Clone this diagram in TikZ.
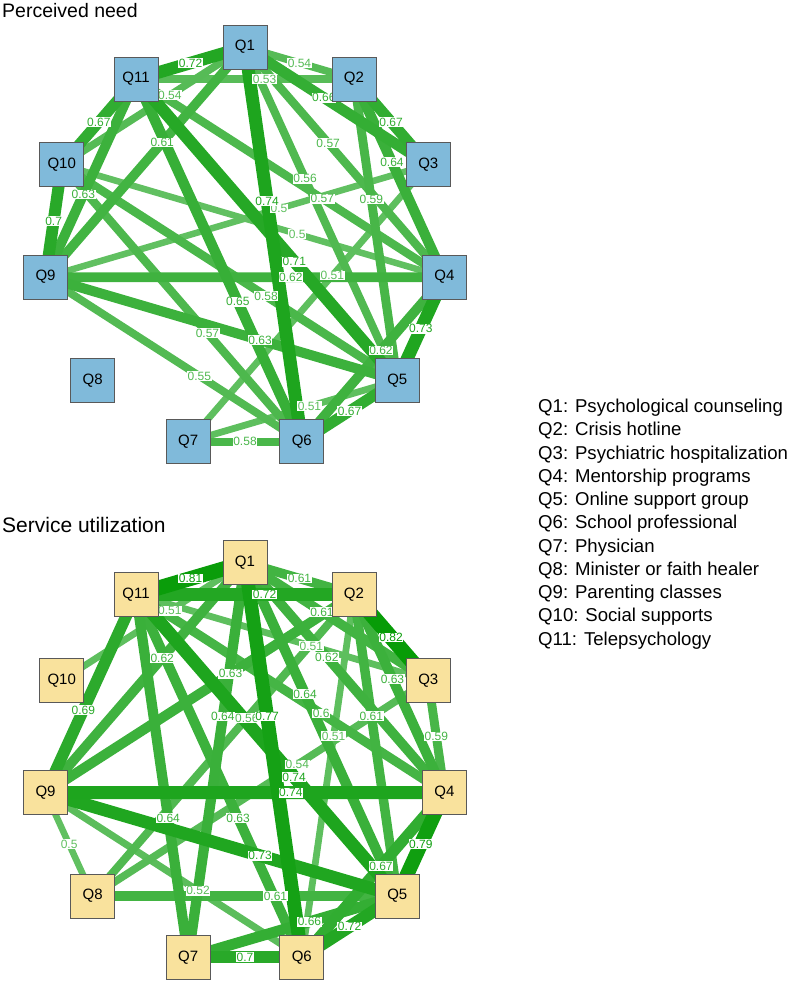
\documentclass[tikz,border=0pt]{standalone}
\usepackage{fontspec}
\setmainfont{Liberation Sans}
\usetikzlibrary{calc}
\definecolor{eg}{RGB}{0,153,0}
\definecolor{nblue}{RGB}{128,186,218}
\definecolor{nyellow}{RGB}{249,226,157}
\pgfdeclarelayer{edgelayer}
\pgfdeclarelayer{labellayer}
\pgfsetlayers{edgelayer,labellayer,main}
\newcommand\Edge[5]{%
  \pgfmathsetmacro\ew{6.5+(#3-0.5)*27}%
  \pgfmathsetmacro\ep{62+(#3-0.5)*110}%
  \colorlet{ecol}{eg!\ep!white}%
  \begin{pgfonlayer}{edgelayer}
    \draw[line width=\ew pt, ecol] (#1.center) -- (#2.center);
  \end{pgfonlayer}
  \begin{pgfonlayer}{labellayer}
    \path (#1.center) -- (#2.center) node[elabel, text=ecol, pos=#4] (l#1#2) {#5};
  \end{pgfonlayer}
}
\tikzset{
  qbox/.style={rectangle, draw=black!65, line width=0.8pt, minimum size=44pt, inner sep=0pt, font=\fontsize{15}{15}\selectfont},
  qa/.style={qbox, fill=nblue},
  qb/.style={qbox, fill=nyellow},
  elabel/.style={fill=white, inner sep=0.6pt, font=\fontsize{12}{12}\selectfont},
  titletext/.style={anchor=base west, inner sep=0pt, font=\fontsize{19.5}{20}\selectfont},
  legendtext/.style={anchor=base west, inner sep=0pt, font=\fontsize{18.6}{20}\selectfont},
}
\begin{document}
\begin{tikzpicture}[x=1pt,y=1pt]
\useasboundingbox (0,0) rectangle (797,-982);
\foreach \k in {1,...,11} {
  \pgfmathsetmacro\ang{90-(\k-1)*360/11}
  \node[qa] (a\k) at ($(245,-248.5)+(\ang:201.5)$) {Q\k};
  \node[qb] (b\k) at ($(245,-764)+(\ang:201.5)$) {Q\k};
}
% top network: Perceived need
\Edge{a3}{a9}{0.5}{0.39}{0.5}
\Edge{a4}{a10}{0.5}{0.385}{0.5}
\Edge{a3}{a7}{0.51}{0.4}{0.51}
\Edge{a5}{a7}{0.51}{0.42}{0.51}
\Edge{a2}{a11}{0.53}{0.41}{0.53}
\Edge{a1}{a2}{0.54}{0.5}{0.54}
\Edge{a1}{a10}{0.54}{0.41}{0.54}
\Edge{a6}{a9}{0.55}{0.4}{0.55}
\Edge{a1}{a5}{0.56}{0.395}{0.56}
\Edge{a1}{a4}{0.57}{0.417}{0.57}
\Edge{a4}{a11}{0.57}{0.396}{0.57}
\Edge{a6}{a10}{0.57}{0.393}{0.57}
\Edge{a5}{a10}{0.58}{0.391}{0.58}
\Edge{a6}{a7}{0.58}{0.5}{0.58}
\Edge{a2}{a5}{0.59}{0.4}{0.59}
\Edge{a1}{a9}{0.61}{0.415}{0.61}
\Edge{a4}{a9}{0.62}{0.385}{0.62}
\Edge{a4}{a6}{0.62}{0.445}{0.62}
\Edge{a9}{a11}{0.63}{0.417}{0.63}
\Edge{a5}{a9}{0.63}{0.39}{0.63}
\Edge{a2}{a4}{0.64}{0.42}{0.64}
\Edge{a6}{a11}{0.65}{0.386}{0.65}
\Edge{a1}{a3}{0.66}{0.43}{0.66}
\Edge{a10}{a11}{0.67}{0.5}{0.67}
\Edge{a2}{a3}{0.67}{0.5}{0.67}
\Edge{a5}{a6}{0.67}{0.5}{0.67}
\Edge{a9}{a10}{0.7}{0.5}{0.7}
\Edge{a5}{a11}{0.71}{0.394}{0.71}
\Edge{a1}{a11}{0.72}{0.5}{0.72}
\Edge{a4}{a5}{0.73}{0.5}{0.73}
\Edge{a1}{a6}{0.74}{0.39}{0.74}
% bottom network: Service utilization
\Edge{b8}{b9}{0.5}{0.5}{0.5}
\Edge{b1}{b10}{0.51}{0.41}{0.51}
\Edge{b3}{b11}{0.51}{0.4}{0.51}
\Edge{b2}{b6}{0.51}{0.39}{0.51}
\Edge{b6}{b9}{0.52}{0.405}{0.52}
\Edge{b3}{b8}{0.54}{0.39}{0.54}
\Edge{b2}{b8}{0.56}{0.41}{0.56}
\Edge{b3}{b4}{0.59}{0.5}{0.59}
\Edge{b4}{b11}{0.6}{0.4}{0.6}
\Edge{b1}{b2}{0.61}{0.5}{0.61}
\Edge{b1}{b3}{0.61}{0.42}{0.61}
\Edge{b2}{b5}{0.61}{0.403}{0.61}
\Edge{b5}{b8}{0.61}{0.4}{0.61}
\Edge{b1}{b4}{0.62}{0.41}{0.62}
\Edge{b1}{b9}{0.62}{0.415}{0.62}
\Edge{b2}{b4}{0.63}{0.426}{0.63}
\Edge{b6}{b11}{0.63}{0.384}{0.63}
\Edge{b2}{b9}{0.63}{0.4}{0.63}
\Edge{b1}{b7}{0.64}{0.39}{0.64}
\Edge{b1}{b5}{0.64}{0.394}{0.64}
\Edge{b7}{b11}{0.64}{0.384}{0.64}
\Edge{b5}{b7}{0.66}{0.42}{0.66}
\Edge{b4}{b6}{0.67}{0.445}{0.67}
\Edge{b9}{b11}{0.69}{0.417}{0.69}
\Edge{b6}{b7}{0.7}{0.5}{0.7}
\Edge{b2}{b11}{0.72}{0.41}{0.72}
\Edge{b5}{b6}{0.72}{0.5}{0.72}
\Edge{b5}{b9}{0.73}{0.39}{0.73}
\Edge{b5}{b11}{0.74}{0.395}{0.74}
\Edge{b4}{b9}{0.74}{0.385}{0.74}
\Edge{b1}{b6}{0.77}{0.39}{0.77}
\Edge{b4}{b5}{0.79}{0.5}{0.79}
\Edge{b1}{b11}{0.81}{0.5}{0.81}
\Edge{b2}{b3}{0.82}{0.5}{0.82}
% titles
\node[titletext] (t1) at (2,-17.3) {Perceived need};
\node[titletext, font=\fontsize{21}{22}\selectfont] (t2) at (2,-532.7) {Service utilization};
% legend
\foreach \t [count=\k] in {Psychological counseling, Crisis hotline, Psychiatric hospitalization, Mentorship programs, Online support group, School professional, Physician, Minister or faith healer, Parenting classes, Social supports, Telepsychology} {
  \node[legendtext] (leg\k) at (538, {-412.7-23.25*(\k-1)}) {Q\k: \t};
}
\end{tikzpicture}
\end{document}
